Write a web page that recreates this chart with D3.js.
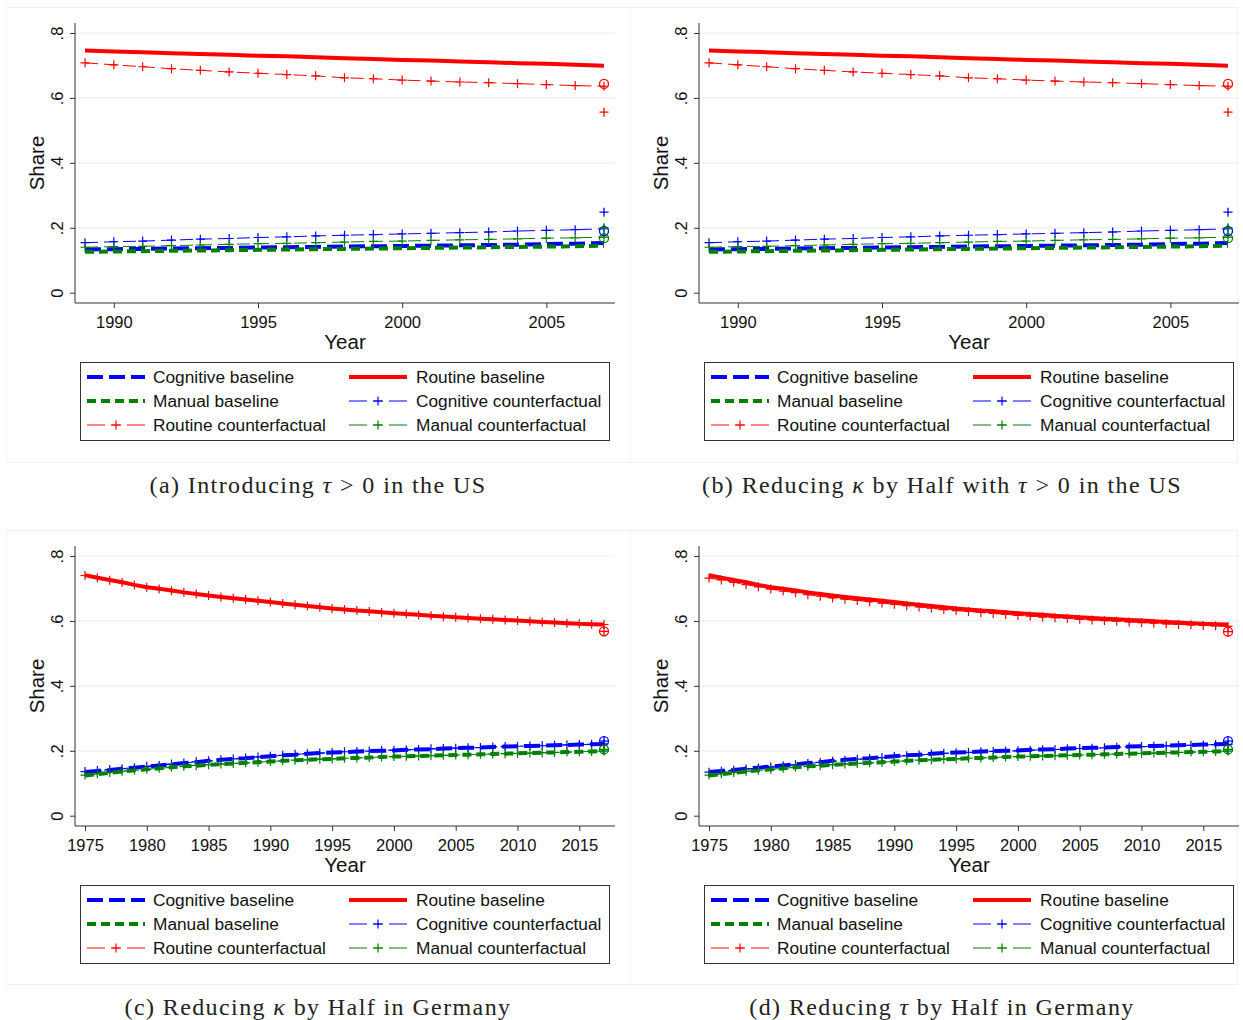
<!DOCTYPE html>
<html><head><meta charset="utf-8">
<script src="https://cdn.jsdelivr.net/npm/d3@7"></script>
<style>body{margin:0;background:#fff} svg{display:block}</style>
</head><body><svg id="chart" width="1243" height="1020"></svg>
<script>
// ---------------- DATA ----------------
const yearsUS = [1989,1990,1991,1992,1993,1994,1995,1996,1997,1998,1999,2000,2001,2002,2003,2004,2005,2006,2007];
const usCognBase = [0.133,0.134,0.135,0.136,0.137,0.138,0.139,0.140,0.141,0.142,0.143,0.144,0.145,0.146,0.147,0.148,0.150,0.151,0.153];
const usRoutBase = [0.746,0.743,0.741,0.738,0.735,0.733,0.730,0.728,0.725,0.722,0.720,0.717,0.715,0.712,0.710,0.707,0.705,0.702,0.699];
const usManBase  = [0.126,0.127,0.128,0.129,0.130,0.131,0.132,0.133,0.134,0.135,0.136,0.137,0.138,0.139,0.140,0.141,0.142,0.143,0.145];
const usCognCf   = [0.154,0.157,0.159,0.162,0.165,0.167,0.170,0.172,0.175,0.177,0.179,0.181,0.183,0.185,0.187,0.190,0.192,0.194,0.197];
const usRoutCf   = [0.708,0.702,0.696,0.690,0.685,0.680,0.676,0.672,0.668,0.662,0.659,0.655,0.652,0.649,0.647,0.644,0.641,0.638,0.636];
const usManCf    = [0.140,0.142,0.143,0.145,0.147,0.149,0.151,0.152,0.154,0.156,0.158,0.159,0.161,0.163,0.164,0.166,0.168,0.169,0.171];
// observed end-year values (circles) and extra end-year points (+): cognitive, routine, manual
const usEndCircle = [0.190,0.643,0.168];
const usEndPlus   = [0.248,0.556,0.200];

const yearsDE = [1975,1976,1977,1978,1979,1980,1981,1982,1983,1984,1985,1986,1987,1988,1989,1990,1991,1992,1993,1994,1995,1996,1997,1998,1999,2000,2001,2002,2003,2004,2005,2006,2007,2008,2009,2010,2011,2012,2013,2014,2015,2016,2017];
const deCognBase = [0.135,0.138,0.141,0.145,0.148,0.151,0.155,0.158,0.162,0.165,0.169,0.172,0.175,0.177,0.180,0.183,0.186,0.188,0.191,0.193,0.195,0.196,0.198,0.199,0.200,0.201,0.203,0.204,0.205,0.207,0.208,0.209,0.210,0.212,0.213,0.214,0.215,0.216,0.217,0.218,0.219,0.220,0.221];
const deRoutBase = [0.741,0.733,0.726,0.719,0.711,0.704,0.699,0.694,0.688,0.683,0.678,0.674,0.670,0.666,0.662,0.658,0.654,0.650,0.646,0.642,0.638,0.635,0.632,0.630,0.627,0.624,0.621,0.619,0.616,0.614,0.611,0.609,0.607,0.605,0.603,0.601,0.599,0.597,0.595,0.593,0.591,0.590,0.589];
const deManBase  = [0.124,0.128,0.132,0.136,0.140,0.143,0.146,0.149,0.152,0.154,0.157,0.159,0.161,0.163,0.165,0.167,0.169,0.171,0.172,0.174,0.175,0.177,0.178,0.179,0.181,0.182,0.183,0.184,0.185,0.186,0.187,0.188,0.189,0.190,0.191,0.192,0.193,0.194,0.195,0.196,0.197,0.198,0.199];
// (c) counterfactuals (reducing kappa by half) – coincide with baseline
const deCognCfC = [0.136,0.139,0.142,0.145,0.148,0.152,0.155,0.159,0.162,0.166,0.169,0.172,0.175,0.178,0.181,0.183,0.186,0.189,0.191,0.193,0.195,0.197,0.198,0.199,0.201,0.202,0.203,0.204,0.206,0.207,0.208,0.209,0.210,0.212,0.213,0.214,0.215,0.216,0.217,0.218,0.219,0.220,0.221];
const deRoutCfC = [0.740,0.733,0.725,0.718,0.711,0.704,0.698,0.693,0.688,0.683,0.678,0.674,0.670,0.666,0.662,0.658,0.654,0.650,0.646,0.642,0.638,0.635,0.632,0.629,0.626,0.624,0.621,0.618,0.616,0.613,0.611,0.609,0.607,0.605,0.603,0.601,0.599,0.597,0.595,0.593,0.591,0.590,0.589];
const deManCfC  = [0.125,0.129,0.133,0.137,0.140,0.143,0.146,0.149,0.152,0.155,0.157,0.159,0.161,0.163,0.165,0.167,0.169,0.171,0.172,0.174,0.175,0.177,0.178,0.179,0.181,0.182,0.183,0.184,0.185,0.186,0.187,0.188,0.189,0.190,0.191,0.192,0.193,0.194,0.195,0.196,0.197,0.198,0.199];
// (d) counterfactuals (reducing tau by half)
const deCognCfD = [0.134,0.137,0.140,0.144,0.147,0.150,0.154,0.157,0.161,0.164,0.168,0.171,0.174,0.176,0.179,0.182,0.185,0.187,0.190,0.192,0.194,0.195,0.197,0.198,0.199,0.200,0.202,0.203,0.204,0.206,0.207,0.208,0.209,0.211,0.212,0.213,0.214,0.215,0.216,0.217,0.218,0.219,0.220];
const deRoutCfD = [0.732,0.726,0.719,0.712,0.705,0.698,0.692,0.687,0.681,0.676,0.671,0.667,0.663,0.659,0.655,0.651,0.647,0.643,0.639,0.635,0.632,0.629,0.626,0.623,0.620,0.617,0.615,0.612,0.610,0.608,0.605,0.603,0.601,0.599,0.597,0.595,0.593,0.591,0.589,0.588,0.586,0.585,0.583];
const deManCfD  = [0.125,0.129,0.133,0.137,0.140,0.143,0.146,0.149,0.152,0.155,0.157,0.159,0.161,0.163,0.165,0.167,0.169,0.171,0.172,0.174,0.175,0.177,0.178,0.179,0.181,0.182,0.183,0.184,0.185,0.186,0.187,0.188,0.189,0.190,0.191,0.192,0.193,0.194,0.195,0.196,0.197,0.198,0.199];
const deEndCircleC = [0.230,0.568,0.204];
const deEndPlusC   = [0.230,0.568,0.204];
const deEndCircleD = [0.230,0.567,0.204];
const deEndPlusD   = [0.230,0.567,0.204];

const yTicks = [0, 0.2, 0.4, 0.6, 0.8];
const xTicksUS = [1990, 1995, 2000, 2005];
const xTicksDE = [1975, 1980, 1985, 1990, 1995, 2000, 2005, 2010, 2015];
const legendLabels = ["Cognitive baseline","Routine baseline","Manual baseline","Cognitive counterfactual","Routine counterfactual","Manual counterfactual"];
const captions = [
  ["(a) Introducing ", "τ", " > 0 in the US"],
  ["(b) Reducing ", "κ", " by Half with ", "τ", " > 0 in the US"],
  ["(c) Reducing ", "κ", " by Half in Germany"],
  ["(d) Reducing ", "τ", " by Half in Germany"]
];

// ---------------- STYLES ----------------
const BLUE = "#0000ff", RED = "#ff0000", GREEN = "#008000";
const styles = {
  cognBase: {color: BLUE, width: 4, dash: "16,6"},
  routBase: {color: RED, width: 4, dash: null},
  manBase:  {color: GREEN, width: 4, dash: "9,5"},
  cognCf:   {color: BLUE, width: 1, dash: "13,6", marker: true},
  routCf:   {color: RED, width: 1, dash: "13,6", marker: true},
  manCf:    {color: GREEN, width: 1, dash: "13,6", marker: true}
};

const panels = [
  {ox: 0,   oy: 0,   years: yearsUS, ticks: xTicksUS, cap: captions[0], capY: 493,
   series: [["cognBase",usCognBase],["routBase",usRoutBase],["manBase",usManBase],["cognCf",usCognCf],["routCf",usRoutCf],["manCf",usManCf]],
   endCircle: usEndCircle, endPlus: usEndPlus},
  {ox: 624, oy: 0,   years: yearsUS, ticks: xTicksUS, cap: captions[1], capY: 493,
   series: [["cognBase",usCognBase],["routBase",usRoutBase],["manBase",usManBase],["cognCf",usCognCf],["routCf",usRoutCf],["manCf",usManCf]],
   endCircle: usEndCircle, endPlus: usEndPlus},
  {ox: 0,   oy: 523, years: yearsDE, ticks: xTicksDE, cap: captions[2], capY: 492,
   series: [["cognBase",deCognBase],["routBase",deRoutBase],["manBase",deManBase],["cognCf",deCognCfC],["routCf",deRoutCfC],["manCf",deManCfC]],
   endCircle: deEndCircleC, endPlus: deEndPlusC},
  {ox: 624, oy: 523, years: yearsDE, ticks: xTicksDE, cap: captions[3], capY: 492,
   series: [["cognBase",deCognBase],["routBase",deRoutBase],["manBase",deManBase],["cognCf",deCognCfD],["routCf",deRoutCfD],["manCf",deManCfD]],
   endCircle: deEndCircleD, endPlus: deEndPlusD}
];

const svg = d3.select("#chart");
svg.append("rect").attr("width",1243).attr("height",1020).attr("fill","#fff");

const SANS = "'Liberation Sans', Arial, sans-serif";
const SERIF = "'Liberation Serif', 'DejaVu Serif', serif";
const plusPath = (x, y, s) => `M${x-s},${y}H${x+s}M${x},${y-s}V${y+s}`;

// faint graph-region frames
[[6,7,624,455],[630,7,607,455],[6,530,624,454],[630,530,607,454]].forEach(r=>{
  svg.append("rect").attr("x",r[0]+0.5).attr("y",r[1]+0.5).attr("width",r[2]).attr("height",r[3])
    .attr("fill","none").attr("stroke","#f1f1f1").attr("stroke-width",1);
});

panels.forEach(p => {
  const g = svg.append("g").attr("transform", `translate(${p.ox},${p.oy})`);
  const x = d3.scaleLinear().domain(d3.extent(p.years)).range([85, 604]);
  const y = d3.scaleLinear().domain([0, 0.8]).range([292.7, 33]);
  const L = 75, R = 615, T = 23, B = 303;

  // grid
  g.append("g").selectAll("line").data(yTicks.filter(d=>d>0)).join("line")
    .attr("x1", L).attr("x2", R).attr("y1", d=>y(d)).attr("y2", d=>y(d))
    .attr("stroke", "#e8f0f1").attr("stroke-width", 1.2);

  // y axis
  const ya = g.append("g").attr("transform", `translate(${L},0)`)
    .call(d3.axisLeft(y).tickValues(yTicks).tickSize(5).tickPadding(12)
      .tickFormat(d => d === 0 ? "0" : d3.format(".1f")(d).replace(/^0/, "")));
  ya.select(".domain").remove();
  ya.append("line").attr("x1",0).attr("x2",0).attr("y1",T).attr("y2",B).attr("stroke","#333");
  ya.selectAll(".tick line").attr("stroke","#333");
  ya.selectAll(".tick text").attr("font-family", SANS).attr("font-size", 16.5).attr("fill","#111")
    .attr("x", null).attr("dy", null).attr("text-anchor","middle")
    .attr("transform", "translate(-12,0) rotate(-90)");

  // x axis
  const xa = g.append("g").attr("transform", `translate(0,${B})`)
    .call(d3.axisBottom(x).tickValues(p.ticks).tickSize(5).tickPadding(8).tickFormat(d3.format("d")));
  xa.select(".domain").remove();
  xa.append("line").attr("x1",L).attr("x2",R).attr("y1",0).attr("y2",0).attr("stroke","#333");
  xa.selectAll(".tick line").attr("stroke","#333");
  xa.selectAll(".tick text").attr("font-family", SANS).attr("font-size", 16.5).attr("fill","#111");

  // axis titles
  g.append("text").attr("x", (L+R)/2).attr("y", 349).attr("text-anchor","middle")
    .attr("font-family", SANS).attr("font-size", 20.5).attr("fill","#111").text("Year");
  g.append("text").attr("transform", `translate(44,${(T+B)/2}) rotate(-90)`).attr("text-anchor","middle")
    .attr("font-family", SANS).attr("font-size", 20.5).attr("fill","#111").text("Share");

  // series
  const line = d3.line().x((d,i)=>x(p.years[i])).y(d=>y(d));
  p.series.forEach(([key, vals]) => {
    const s = styles[key];
    g.append("path").attr("d", line(vals)).attr("fill","none")
      .attr("stroke", s.color).attr("stroke-width", s.width)
      .attr("stroke-dasharray", s.dash).attr("stroke-linejoin","round");
    if (s.marker) {
      g.append("path").attr("d", vals.map((v,i)=>plusPath(x(p.years[i]), y(v), 4.5)).join(""))
        .attr("stroke", s.color).attr("stroke-width", 1.2).attr("fill","none");
    }
  });

  // end-year markers
  const lastYear = p.years[p.years.length-1];
  const endColors = [BLUE, RED, GREEN];
  p.endCircle.forEach((v,i)=>{
    g.append("circle").attr("cx", x(lastYear)).attr("cy", y(v)).attr("r", 4.5)
      .attr("fill","none").attr("stroke", endColors[i]).attr("stroke-width", 1.3);
  });
  p.endPlus.forEach((v,i)=>{
    g.append("path").attr("d", plusPath(x(lastYear), y(v), 4.5))
      .attr("stroke", endColors[i]).attr("stroke-width", 1.3);
  });

  // legend
  const lg = g.append("g");
  lg.append("rect").attr("x", 80.5).attr("y", 362.5).attr("width", 529).attr("height", 78)
    .attr("fill","#fff").attr("stroke","#333").attr("stroke-width",1);
  const order = ["cognBase","routBase","manBase","cognCf","routCf","manCf"];
  order.forEach((key, i) => {
    const col = i % 2, row = Math.floor(i / 2);
    const sx = col === 0 ? 87 : 349, ex = sx + 58, ty = 377 + row * 24;
    const s = styles[key];
    lg.append("line").attr("x1", sx).attr("x2", ex).attr("y1", ty).attr("y2", ty)
      .attr("stroke", s.color).attr("stroke-width", s.width)
      .attr("stroke-dasharray", s.marker ? "18,6,10,6,18" : s.dash);
    if (s.marker) {
      lg.append("path").attr("d", plusPath((sx+ex)/2, ty, 4.5))
        .attr("stroke", s.color).attr("stroke-width", 1.2);
    }
    lg.append("text").attr("x", col === 0 ? 153 : 416).attr("y", ty + 6)
      .attr("font-family", SANS).attr("font-size", 17.3).attr("fill","#111")
      .text(legendLabels[i]);
  });

  // caption
  const cap = g.append("text").attr("x", 318).attr("y", p.capY).attr("text-anchor","middle")
    .attr("font-family", SERIF).attr("font-size", 24).attr("letter-spacing", 1.4).attr("fill","#222");
  p.cap.forEach(part => {
    const t = cap.append("tspan").text(part);
    if (part === "τ" || part === "κ") t.attr("font-style","italic");
  });
});
</script></body></html>
